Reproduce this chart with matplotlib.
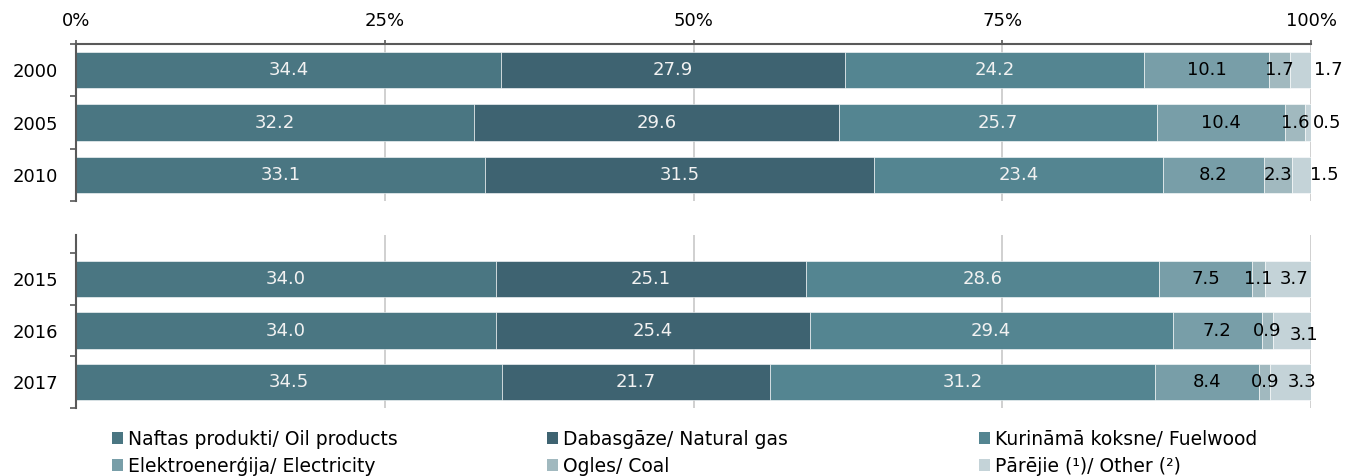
import matplotlib
matplotlib.use("Agg")
import matplotlib.pyplot as plt
from matplotlib.patches import Patch

plt.rcParams['font.family'] = ['DejaVu Sans']

years_top = ["2000", "2005", "2010"]
years_bottom = ["2015", "2016", "2017"]

series_names = [
    "Naftas produkti/ Oil products",
    "Dabasgāze/ Natural gas",
    "Kurināmā koksne/ Fuelwood",
    "Elektroenerģija/ Electricity",
    "Ogles/ Coal",
    "Pārējie (¹)/ Other (²)",
]
colors = ["#4A7682", "#3E6371", "#548591", "#789EA8", "#A1B9BF", "#C4D3D8"]

# shares per year, %
oil = [34.4, 32.2, 33.1, 34.0, 34.0, 34.5]
gas = [27.9, 29.6, 31.5, 25.1, 25.4, 21.7]
wood = [24.2, 25.7, 23.4, 28.6, 29.4, 31.2]
elec = [10.1, 10.4, 8.2, 7.5, 7.2, 8.4]
coal = [1.7, 1.6, 2.3, 1.1, 0.9, 0.9]
other = [1.7, 0.5, 1.5, 3.7, 3.1, 3.3]
series = [oil, gas, wood, elec, coal, other]

# label nudges for the "other" segment (points)
other_dx = [20, 14, 16, 4, 9, 8]
other_dy = [0, 0, 0, 0, -3, 0]

fs = 13
grid_c = "#C8C8C8"
spine_c = "#595959"
W, H = 1346, 476
fig = plt.figure(figsize=(W / 100, H / 100), dpi=100)

left = 76 / W
width = (1311 - 76) / W
ax1 = fig.add_axes([left, 1 - 201 / H, width, 157 / H])
ax2 = fig.add_axes([left, 1 - 408 / H, width, 173 / H])


def draw(ax, years, idx, ylim):
    for j, yr_i in enumerate(idx):
        start = 0
        for s, vals in enumerate(series):
            v = vals[yr_i]
            ax.barh(j, v, left=start, height=0.7, color=colors[s],
                    edgecolor="white", linewidth=0.4, zorder=2)
            cx = start + v / 2
            tc = "#F2F2F2" if s < 3 else "black"
            dx, dy = (other_dx[yr_i], other_dy[yr_i]) if s == 5 else (0, 0)
            ax.annotate(f"{v:.1f}", (cx, j), xytext=(dx, dy),
                        textcoords="offset points", ha="center", va="center",
                        color=tc, fontsize=fs, zorder=3)
            start += v
    ax.set_xlim(0, 100)
    ax.set_ylim(*ylim)
    ax.set_yticks(range(len(years)))
    ax.set_yticklabels(years, fontsize=fs)
    ax.tick_params(axis="y", length=0, pad=13)
    ax.set_yticks([-0.5, 0.5, 1.5, 2.5], minor=True)
    ax.tick_params(axis="y", which="minor", length=4, color=spine_c, width=1.2)
    ax.set_xticks([0, 25, 50, 75, 100])
    ax.grid(axis="x", color=grid_c, linewidth=1.2, zorder=0)
    for sp in ["right", "bottom", "top"]:
        ax.spines[sp].set_visible(False)
    ax.spines["left"].set_color(spine_c)
    ax.spines["left"].set_linewidth(1.5)


draw(ax1, years_top, [0, 1, 2], (2.5, -0.5))
draw(ax2, years_bottom, [3, 4, 5], (2.5, -0.85))

ax1.xaxis.tick_top()
ax1.spines["top"].set_visible(True)
ax1.spines["top"].set_color(spine_c)
ax1.spines["top"].set_linewidth(1.5)
ax1.set_xticklabels(["0%", "25%", "50%", "75%", "100%"], fontsize=fs)
ax1.tick_params(axis="x", length=3, color=spine_c, width=1.2, pad=7)
ax2.tick_params(axis="x", length=0, labelbottom=False)

handles = [Patch(facecolor=c, edgecolor="none") for c in colors]
leg_x = [112 / W, 547 / W, 979 / W]
for k in range(3):
    fig.legend([handles[k], handles[k + 3]], [series_names[k], series_names[k + 3]],
               loc="upper left", bbox_to_anchor=(leg_x[k], 1 - 430 / H),
               frameon=False, fontsize=13.5, handlelength=0.6, handleheight=0.6,
               handletextpad=0.25, labelspacing=0.4, borderpad=0, borderaxespad=0)

fig.savefig("out.png", dpi=100)
